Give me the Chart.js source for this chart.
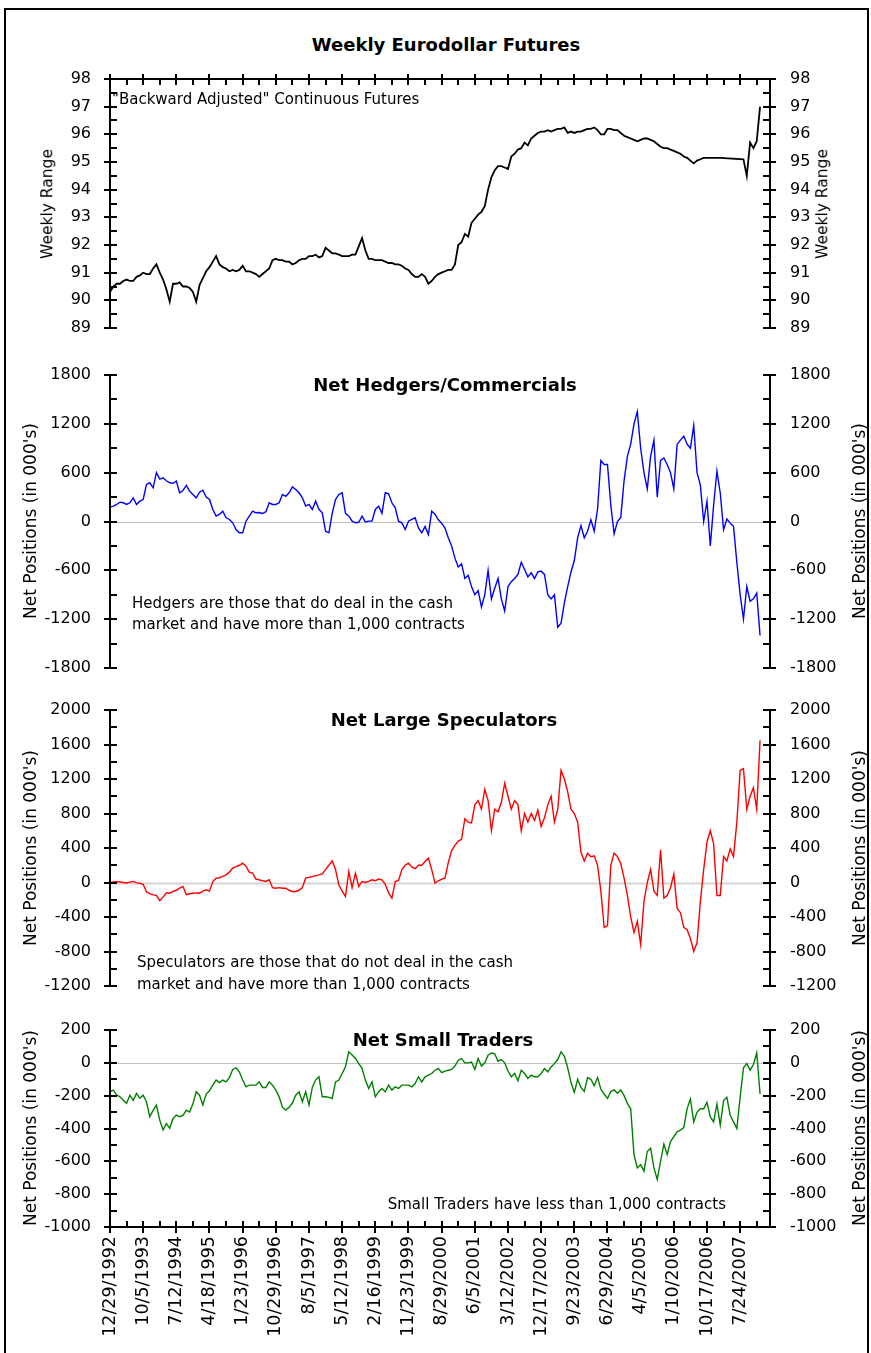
<!DOCTYPE html>
<html><head><meta charset="utf-8">
<script src="https://cdn.jsdelivr.net/npm/chart.js@4.4.1/dist/chart.umd.min.js"></script>
<style>
html,body{margin:0;padding:0;background:#fff;}
body{width:871px;height:1353px;position:relative;overflow:hidden;font-family:'DejaVu Sans',sans-serif;color:#000;}
#frame{position:absolute;left:4px;top:8px;width:865px;height:1400px;border:2px solid #000;box-sizing:border-box;}
canvas{position:absolute;left:0;}
.t{position:absolute;white-space:nowrap;line-height:1;font-size:15px;}
.b{font-weight:bold;font-size:18px;transform:translateX(-50%);}
.r{position:absolute;white-space:nowrap;line-height:1;transform:translate(-50%,-50%) rotate(-90deg);}
</style></head><body>
<div id="frame"></div>
<canvas id="c1" width="871" height="290" style="top:60px"></canvas>
<canvas id="c2" width="871" height="320" style="top:360px"></canvas>
<canvas id="c3" width="871" height="305" style="top:695px"></canvas>
<canvas id="c4" width="871" height="338" style="top:1015px"></canvas>

<div class="t b" style="left:446px;top:36px">Weekly Eurodollar Futures</div>
<div class="t" style="left:112px;top:92px">"Backward Adjusted" Continuous Futures</div>
<div class="t b" style="left:445px;top:376px">Net Hedgers/Commercials</div>
<div class="t" style="left:132px;top:596px">Hedgers are those that do deal in the cash</div>
<div class="t" style="left:132px;top:617px">market and have more than 1,000 contracts</div>
<div class="t b" style="left:444px;top:711px">Net Large Speculators</div>
<div class="t" style="left:137px;top:955px">Speculators are those that do not deal in the cash</div>
<div class="t" style="left:137px;top:977px">market and have more than 1,000 contracts</div>
<div class="t b" style="left:443px;top:1031px">Net Small Traders</div>
<div class="t" style="right:145px;top:1197px">Small Traders have less than 1,000 contracts</div>

<div class="r" style="left:48px;top:204px;font-size:15.5px">Weekly Range</div>
<div class="r" style="left:823px;top:204px;font-size:15.5px">Weekly Range</div>
<div class="r" style="left:30px;top:521px;font-size:17px">Net Positions (in 000's)</div>
<div class="r" style="left:859px;top:521px;font-size:17px">Net Positions (in 000's)</div>
<div class="r" style="left:30px;top:848px;font-size:17px">Net Positions (in 000's)</div>
<div class="r" style="left:859px;top:848px;font-size:17px">Net Positions (in 000's)</div>
<div class="r" style="left:30px;top:1128px;font-size:17px">Net Positions (in 000's)</div>
<div class="r" style="left:859px;top:1128px;font-size:17px">Net Positions (in 000's)</div>

<script>
// ---- data (one point every 4 weeks, starting 12/29/1992) ----
const tickDates = ["12/29/1992","10/5/1993","7/12/1994","4/18/1995","1/23/1996","10/29/1996","8/5/1997","5/12/1998","2/16/1999","11/23/1999","8/29/2000","6/5/2001","3/12/2002","12/17/2002","9/23/2003","6/29/2004","4/5/2005","1/10/2006","10/17/2006","7/24/2007"];

const eurodollar = [90.3,90.5,90.6,90.6,90.7,90.75,90.7,90.7,90.85,90.9,
 91.0,90.95,90.95,91.15,91.3,91.0,90.75,90.4,89.95,90.6,
 90.6,90.65,90.5,90.5,90.45,90.3,89.95,90.55,90.8,91.05,
 91.2,91.4,91.6,91.3,91.2,91.15,91.05,91.1,91.05,91.1,
 91.25,91.05,91.05,91.0,90.95,90.85,90.95,91.05,91.15,91.45,
 91.5,91.45,91.45,91.4,91.4,91.3,91.35,91.45,91.5,91.5,
 91.6,91.6,91.65,91.55,91.6,91.9,91.8,91.7,91.7,91.65,
 91.6,91.6,91.6,91.65,91.65,91.95,92.25,91.8,91.5,91.5,
 91.45,91.45,91.45,91.4,91.35,91.35,91.3,91.3,91.25,91.15,
 91.1,90.95,90.85,90.85,90.95,90.85,90.6,90.7,90.85,90.95,
 91.0,91.05,91.1,91.1,91.3,92.0,92.1,92.4,92.3,92.8,
 92.95,93.1,93.2,93.4,94.0,94.45,94.7,94.85,94.85,94.8,
 94.75,95.2,95.3,95.45,95.5,95.7,95.6,95.85,95.95,96.05,
 96.1,96.1,96.15,96.1,96.15,96.2,96.2,96.25,96.05,96.1,
 96.05,96.1,96.1,96.15,96.2,96.2,96.25,96.15,96.0,96.0,
 96.2,96.2,96.15,96.15,96.05,95.95,95.9,95.85,95.8,95.75,
 95.8,95.85,95.85,95.8,95.75,95.65,95.55,95.5,95.5,95.45,
 95.4,95.35,95.3,95.2,95.15,95.05,94.95,95.05,95.1,95.15,
 95.15,95.15,95.15,95.15,95.15,null,null,null,null,null,
 null,95.1,94.5,95.7,95.5,95.75,97.0];

const hedgers = [176,189,209,238,230,209,230,291,209,250,
 270,455,476,414,600,520,537,500,476,470,
 496,353,380,443,373,332,291,360,385,300,
 270,148,66,86,127,45,25,-16,-98,-139,
 -139,4,66,127,107,110,98,120,230,209,
 209,230,332,310,353,426,394,353,291,189,
 210,148,250,150,107,-119,-139,100,270,332,
 353,100,66,4,-16,-10,66,-5,4,4,
 148,189,100,353,340,230,168,4,-16,-98,
 4,25,45,-78,-139,-60,-160,127,90,20,
 -20,-80,-200,-300,-450,-560,-520,-700,-660,-800,
 -900,-850,-1050,-900,-600,-950,-820,-700,-950,-1100,
 -800,-740,-700,-650,-500,-590,-680,-630,-700,-620,
 -610,-650,-900,-950,-900,-1300,-1250,-1000,-800,-620,
 -480,-200,-50,-200,-120,20,-120,150,750,700,
 700,200,-150,0,50,500,800,950,1200,1350,
 900,600,400,800,1000,300,750,780,700,600,
 400,950,1000,1050,950,900,1180,600,450,0,
 250,-300,200,620,350,-100,30,-20,-60,-500,
 -900,-1200,-800,-980,-950,-880,-1400];

const speculators = [0,5,10,5,0,-5,5,12,-5,-10,
 -20,-110,-130,-143,-150,-210,-170,-120,-124,-104,
 -90,-66,-46,-140,-130,-124,-120,-124,-100,-85,
 -100,10,50,55,70,89,120,166,185,200,
 224,190,120,108,40,31,20,12,31,-60,
 -66,-60,-66,-66,-90,-104,-104,-90,-60,50,
 60,69,80,89,100,150,200,250,150,-30,
 -100,-162,127,-60,108,-46,12,0,12,31,
 20,40,30,-20,-120,-181,12,25,150,200,
 224,180,160,200,200,243,282,150,-8,20,
 40,50,230,370,430,480,500,740,700,690,
 900,950,850,1080,950,600,850,820,930,1150,
 1000,850,950,900,600,800,700,800,720,840,
 650,750,900,1000,700,850,1300,1200,1050,850,
 800,700,350,250,340,300,310,200,-100,-520,
 -500,200,340,300,220,50,-150,-400,-580,-450,
 -720,-220,0,150,-100,-150,380,-180,-150,-60,
 100,-300,-350,-520,-548,-650,-800,-700,-220,150,
 470,600,450,-150,-150,300,250,390,300,700,
 1300,1320,850,1000,1100,850,1650];

const smallTraders = [-176,-166,-195,-207,-228,-247,-197,-228,-186,-216,
 -197,-237,-328,-290,-257,-349,-409,-370,-399,-340,
 -318,-328,-320,-288,-300,-250,-176,-197,-257,-190,
 -170,-136,-105,-120,-105,-116,-90,-40,-30,-55,
 -105,-146,-136,-136,-136,-116,-150,-150,-116,-136,
 -166,-207,-270,-288,-270,-245,-197,-176,-237,-176,
 -257,-150,-105,-85,-207,-207,-210,-217,-116,-105,
 -65,-24,67,47,27,-5,-34,-105,-156,-116,
 -207,-176,-156,-176,-136,-166,-146,-156,-136,-136,
 -136,-146,-126,-85,-116,-85,-75,-65,-45,-34,
 -60,-50,-45,-40,-20,16,26,0,0,5,
 -40,26,-20,0,47,60,55,10,20,0,
 -50,-85,-65,-110,-45,-65,-95,-75,-85,-85,
 -65,-35,-55,-25,-5,20,67,40,-30,-120,
 -180,-100,-150,-175,-90,-100,-140,-90,-160,-190,
 -217,-175,-165,-185,-165,-200,-247,-280,-560,-640,
 -620,-660,-540,-520,-640,-710,-600,-495,-560,-480,
 -450,-420,-410,-395,-280,-220,-360,-300,-280,-280,
 -240,-330,-360,-250,-380,-230,-210,-320,-360,-400,
 -210,-30,-5,-45,-10,60,-190];

// categories: every 4 weeks from 12/29/1992 (200 slots, axis ends early 2008)
const categories = [];
(function(){
  const start = Date.UTC(1992, 11, 29);
  for (let i = 0; i < 200; i++) {
    const d = new Date(start + i * 28 * 86400000);
    categories.push((d.getUTCMonth()+1) + '/' + d.getUTCDate() + '/' + d.getUTCFullYear());
  }
})();

const FONT = "'DejaVu Sans', sans-serif";

const marks = {
  id: 'marks',
  beforeDatasetsDraw(chart, args, o) {
    if (!o.zero) return;
    const a = chart.chartArea, ctx = chart.ctx;
    const y = Math.round(chart.scales.y.getPixelForValue(0)) + 0.5;
    ctx.save();
    ctx.strokeStyle = o.zeroColor; ctx.lineWidth = o.zeroWidth;
    ctx.beginPath(); ctx.moveTo(a.left, y); ctx.lineTo(a.right, y); ctx.stroke();
    ctx.restore();
  },
  afterDraw(chart, args, o) {
    const a = chart.chartArea, ctx = chart.ctx, ys = chart.scales.y, xs = chart.scales.x;
    ctx.save();
    ctx.strokeStyle = '#000'; ctx.lineWidth = 2; ctx.lineCap = 'butt';
    const L = (x1, y1, x2, y2) => { ctx.beginPath(); ctx.moveTo(x1, y1); ctx.lineTo(x2, y2); ctx.stroke(); };
    const top = a.top, bot = a.bottom;
    L(a.left, top - (o.topAxis ? 1 : 0), a.left, bot + (o.bottomAxis ? 1 : 0));
    L(a.right, top - (o.topAxis ? 1 : 0), a.right, bot + (o.bottomAxis ? 1 : 0));
    ys.ticks.forEach(t => {
      const y = Math.round(ys.getPixelForValue(t.value));
      const maj = o.isMajor(t.value);
      L(maj ? a.left - 6 : a.left, y, a.left + 7, y);
      L(a.right - 7, y, maj ? a.right + 6 : a.right, y);
    });
    if (o.topAxis) {
      L(a.left, top, a.right, top);
      for (let i = 0; i < categories.length; i += 5) {
        const x = Math.round(xs.getPixelForValue(i));
        const maj = i % 10 === 0;
        L(x, maj ? top - 5 : top, x, top + 6);
      }
    }
    if (o.bottomAxis) {
      L(a.left, bot, a.right, bot);
      for (let i = 0; i < categories.length; i += 5) {
        const x = Math.round(xs.getPixelForValue(i));
        const maj = i % 10 === 0;
        L(x, bot - 6, x, maj ? bot + 6 : bot);
      }
    }
    ctx.restore();
  }
};

function panel(id, series, color, lw, yMin, yMax, step, isMajor, area, extra) {
  const yAxis = (pos) => ({
    type: 'linear', position: pos, min: yMin, max: yMax, display: true,
    // invisible tick marks of fixed length just push the labels away from the axis
    grid: { display: false, drawTicks: true, tickLength: pos === 'left' ? 19 : 20 }, border: { display: false },
    ticks: { stepSize: step, autoSkip: false, padding: 0, color: '#000',
      font: { family: FONT, size: 16 },
      callback: v => isMajor(v) ? String(Math.round(v * 100) / 100) : '' },
    afterFit: s => { s.width = pos === 'left' ? 110 : 101; }
  });
  const xAxis = extra.showX ? {
    type: 'category', display: true, position: 'bottom',
    grid: { display: false, drawTicks: false }, border: { display: false },
    ticks: { autoSkip: false, maxRotation: 90, minRotation: 90, padding: 9, color: '#000',
      font: { family: FONT, size: 17.5 },
      callback: (v, i) => (i % 10 === 0 && tickDates[i / 10]) ? tickDates[i / 10] : '' },
    afterFit: s => { s.height = 126; }
  } : { type: 'category', display: false };
  const canvas = document.getElementById(id);
  const canvasTop = parseFloat(canvas.style.top);
  let pt = area[0] - canvasTop, pb = canvas.height - (area[1] - canvasTop) - (extra.showX ? 126 : 0);
  const chart = new Chart(canvas, {
    type: 'line',
    data: { labels: categories, datasets: [{
      data: series, borderColor: color, borderWidth: lw, pointRadius: 0, fill: false,
      tension: 0, spanGaps: true, borderJoinStyle: 'miter',
      segment: {
        borderDash: c => (c.p1DataIndex - c.p0DataIndex > 1) ? [2, 2] : undefined,
        borderWidth: c => (c.p1DataIndex - c.p0DataIndex > 1) ? 1 : undefined
      }
    }]},
    options: {
      responsive: false, animation: false, devicePixelRatio: 1,
      layout: { autoPadding: false, padding: { top: pt, bottom: pb, left: 0, right: 0 } },
      plugins: { legend: { display: false }, tooltip: { enabled: false },
        marks: { isMajor, topAxis: !!extra.topAxis, bottomAxis: !!extra.showX,
          zero: !!extra.zero, zeroColor: extra.zeroColor || '#c0c0c0', zeroWidth: extra.zeroWidth || 1 } },
      scales: { x: xAxis, y: yAxis('left'), y2: yAxis('right') }
    },
    plugins: [marks]
  });
  // nudge the layout padding so the plot area lands where the reference has it
  for (let k = 0; k < 4; k++) {
    const ca = chart.chartArea;
    const dt = (area[0] - canvasTop) - ca.top;
    const db = ca.bottom - (area[1] - canvasTop);
    if (Math.abs(dt) < 0.3 && Math.abs(db) < 0.3) break;
    pt += dt; pb += db;
    chart.options.layout.padding = { top: pt, bottom: pb, left: 0, right: 0 };
    chart.update();
  }
  return chart;
}

const near = (v, m) => Math.abs(v / m - Math.round(v / m)) < 1e-6;
panel('c1', eurodollar, '#000000', 1.8, 89, 98, 0.5, v => near(v, 1), [79, 328], { topAxis: true });
panel('c2', hedgers, '#0000ff', 1.4, -1800, 1800, 300, v => near(v, 600), [375, 668], { zero: true });
panel('c3', speculators, '#ff0000', 1.4, -1200, 2000, 200, v => near(v, 400), [710, 986], { zero: true, zeroColor: '#d4d4d4', zeroWidth: 2 });
panel('c4', smallTraders, '#008000', 1.4, -1000, 200, 100, v => near(v, 200), [1030, 1227], { showX: true, zero: true });
</script>
</body></html>
